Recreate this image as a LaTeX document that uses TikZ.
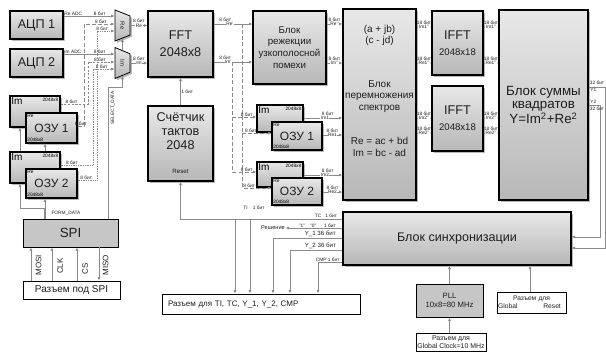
\documentclass[tikz,border=0pt]{standalone}
\usepackage{fontspec}
\setmainfont{Liberation Sans}
\usepackage{tikz}
\usetikzlibrary{positioning,arrows.meta,calc,shapes.geometric,shadows}
\definecolor{SDRline}{HTML}{8A8A8A}
\definecolor{SDRtop}{HTML}{E8E8E8}
\definecolor{SDRbot}{HTML}{B7B7B7}
\definecolor{SDRflat}{HTML}{C6C6C6}
\definecolor{SDRshade}{HTML}{9A9A9A}
\definecolor{SDRink}{HTML}{1E1E1E}
\newcommand{\bitfont}{\fontsize{3.6}{4}\selectfont}
\newcommand{\sigfont}{\fontsize{4.6}{5}\selectfont}
\tikzset{
  wh/.style 2 args={minimum width=#1*0.75pt, minimum height=#2*0.75pt},
  blk/.style={draw=black, line width=0.8pt, top color=SDRtop, bottom color=SDRbot, align=center, inner sep=1pt, text=SDRink, drop shadow={shadow xshift=1.4pt, shadow yshift=-1.4pt, fill=SDRshade, opacity=0.7}},
  flatblk/.style={draw=black, line width=0.7pt, fill=SDRflat, align=center, inner sep=1pt, text=SDRink},
  conn/.style={draw=black, line width=0.6pt, fill=white, align=center, inner sep=0.5pt, text=SDRink},
  mux/.style={blk, shape=trapezium, trapezium angle=65, trapezium stretches=true, rotate=-90, line width=0.6pt, font=\fontsize{4.5}{5}\selectfont},
  ramback/.style={blk, label={[anchor=north west, inner sep=1.2pt, font=\fontsize{7.5}{8}\selectfont]north west:Im}, label={[anchor=north east, inner sep=1.5pt, font=\bitfont]north east:2048x8}},
  ramfront/.style={blk, font=\fontsize{9}{10}\selectfont, label={[anchor=north west, inner sep=1.2pt, font=\bitfont]north west:Re}, label={[anchor=south west, inner sep=1.2pt, font=\bitfont]south west:2048x8}},
  txt/.style={inner sep=0pt, align=center, text=SDRink},
  arr/.style={draw=SDRline, line width=0.5pt, -{Latex[length=2.6pt,width=2.2pt]}},
  ldash/.style={arr, dash pattern=on 3pt off 1.6pt},
  sdash/.style={arr, dash pattern=on 1.6pt off 1.2pt},
  dotarr/.style={arr, dash pattern=on 0.5pt off 0.8pt},
  bus/.style={draw=SDRline, line width=2pt},
  bit/.style={inner sep=0.4pt, font=\bitfont, text=SDRink},
  bitup/.style={bit, above=1.5pt},
  onl/.style={bit, fill=white},
  sig/.style={inner sep=0.4pt, font=\sigfont, text=SDRink},
  pinlbl/.style={inner sep=0pt, rotate=90, font=\fontsize{6}{6}\selectfont, text=SDRink},
  ifftlbl/.style={blk, font=\fontsize{9.5}{12}\selectfont}
}
\begin{document}
\begin{tikzpicture}[x=0.75pt,y=-0.75pt]
\useasboundingbox (0,0) rectangle (606,351);
\node[blk, wh={53}{28}, font=\fontsize{9.5}{11}\selectfont] (adc1) at (36.5,25) {АЦП 1};
\node[blk, wh={53}{28}, font=\fontsize{9.5}{11}\selectfont] (adc2) at (36.5,63) {АЦП 2};
\node[mux, wh={31}{15}] (muxre) at (122.5,25.5) {Re};
\node[mux, wh={31}{15}] (muxim) at (122.5,63) {Im};
\node[blk, wh={65}{66}, font=\fontsize{9.5}{13}\selectfont] (fft) at (180.5,44) {FFT\\2048x8};
\node[blk, wh={73}{73}, font=\fontsize{7.3}{8.8}\selectfont] (rej) at (289.5,47.5) {Блок\\режекции\\узкополосной\\помехи};
\node[blk, wh={73}{191}] (mul) at (379.5,104.5) {};
\node[txt, font=\fontsize{7.5}{8.6}\selectfont] (mulin) at (379.5,35.5) {(a + jb)\\(c - jd)};
\node[txt, font=\fontsize{7.5}{8.6}\selectfont] (multit) at (379.5,96.5) {Блок\\перемножения\\спектров};
\node[txt, font=\fontsize{7.5}{8.6}\selectfont] (mulfx) at (379.5,147) {Re = ac + bd\\Im = bc - ad};
\node[ifftlbl, wh={51}{64}] (ifft1) at (457.5,43) {IFFT\\\fontsize{7.2}{8}\selectfont 2048x18};
\node[ifftlbl, wh={51}{65}] (ifft2) at (457.5,118.5) {IFFT\\\fontsize{7.2}{8}\selectfont 2048x18};
\node[blk, wh={89}{190}, font=\fontsize{10}{10}\selectfont] (sum) at (543.5,105) {Блок суммы\\квадратов\\Y=Im\textsuperscript{2}+Re\textsuperscript{2}};
\node[blk, wh={65}{75}] (cnt) at (180.5,143.5) {};
\node[txt, font=\fontsize{9.5}{10.5}\selectfont] (cnttxt) at (180.5,131) {Счётчик\\тактов\\2048};
\node[txt, font=\sigfont] (cntrst) at (180.5,171) {Reset};
\node[ramback, wh={50}{31}] (ima) at (35,111.5) {};
\node[ramfront, wh={51}{30}] (rama) at (51.5,128) {ОЗУ 1};
\node[ramback, wh={50}{31}] (imb) at (35,167.5) {};
\node[ramfront, wh={51}{29}] (ramb) at (51.5,183.5) {ОЗУ 2};
\node[ramback, wh={46}{27}] (imc) at (280,118.5) {};
\node[ramfront, wh={50}{28}] (ramc) at (297,136) {ОЗУ 1};
\node[ramback, wh={46}{25}] (imd) at (280,174.5) {};
\node[ramfront, wh={50}{27}] (ramd) at (297,191.5) {ОЗУ 2};
\node[flatblk, wh={95}{28}, font=\fontsize{10}{12}\selectfont] (spi) at (70.5,233) {SPI};
\node[conn, wh={97}{18}, font=\fontsize{7.5}{9}\selectfont] (spicon) at (71.5,290) {Разъем под SPI};
\node[blk, wh={228}{53}, font=\fontsize{9.4}{11}\selectfont] (sync) at (457,238.5) {Блок синхронизации};
\node[flatblk, wh={67}{33}, font=\fontsize{5.8}{7}\selectfont] (pll) at (449.5,300.5) {PLL\\10x8=80 MHz};
\node[conn, wh={70}{18}, font=\fontsize{5.2}{6}\selectfont] (gclk) at (451,342) {Разъем для\\Global Clock=10 MHz};
\node[conn, wh={69}{21}, text width=50pt, font=\fontsize{5}{6}\selectfont] (grst) at (531.5,302.5) {Разъем для\\Global\hfill Reset\hspace*{3pt}};
\node[conn, wh={198}{20}, text width=139.5pt, inner xsep=4.5pt, align=left, font=\fontsize{6}{8}\selectfont] (outc) at (261,304) {Разъем для TI, TC, Y\_1, Y\_2, CMP};

\draw[arr] (adc1.east |- 0,16) -- node[bit, pos=0, anchor=south west] (t1) {Re ADC} node[bit, pos=0.71, above] (b1) {8 бит} (muxre.south |- 0,16);
\draw[arr] (adc2.east |- 0,54) -- node[bit, pos=0, anchor=south west] (t2) {Im ADC} node[bit, pos=0.71, above] (b2) {8 бит} (muxim.south |- 0,54);
\draw[ldash] (rama.east |- 0,126) -- node[bit, above] (b3) {8 бит} (84,126) -- (84,24) -- node[bit, above, pos=.55] (b4) {8 бит} (muxre.south |- 0,24);
\draw[sdash] (ima.east |- 0,104) -- node[bit, above, pos=.4] (b5) {8 бит} (88,104) -- (88,62) -- node[bit, above, pos=.45] (b6) {8 бит} (muxim.south |- 0,62);
\draw[dotarr] (imb.east |- 0,165) -- node[bit, above, pos=.35] (b7) {8 бит} (93,165) -- (93,69) -- node[bit, above, pos=.4] (b8) {8 бит} (muxim.south |- 0,69);
\draw[dotarr] (ramb.east |- 0,180) -- node[bit, above, pos=.45] (b9) {8 бит} (97,180) -- (97,31) -- node[bit, above, pos=.3] (b10) {8 бит} (muxre.south |- 0,31);

\draw[arr] (muxre.north) -- node[bitup, pos=.5] (b11) {8 бит} node[onl, pos=.5] (s1) {Re} (muxre.north -| fft.west);
\draw[arr] (muxim.north) -- node[bitup, pos=.5] (b12) {8 бит} node[onl, pos=.5] (s2) {Im} (muxim.north -| fft.west);
\draw[arr] (spi.north -| 108,0) -- (108,87) -| (muxim.east);
\draw[arr] (muxim.west) -- (muxre.east);
\node[bit, rotate=90] (selt) at (113,108) {SELECT\_DATA};

\coordinate (fdbr) at (45,208);
\draw[bus] (spi.north -| fdbr) -- (fdbr);
\draw[arr] (fdbr) -- (ramb.south -| fdbr);
\draw[arr] (fdbr) -- (20,208) -- (imb.south -| 20,0);
\draw[arr] (imb.north -| 20,0) -- (ima.south -| 20,0);
\draw[arr] (imb.north -| fdbr) -- (rama.south -| fdbr);
\node[bit] (fdlbl) at (66,213.5) {FORM\_DATA};

\draw[arr] (spicon.north -| 31,0) -- (spi.south -| 31,0);
\draw[arr] (spicon.north -| 52,0) -- (spi.south -| 52,0);
\draw[arr] (spicon.north -| 77,0) -- (spi.south -| 77,0);
\draw[arr] (spi.south -| 99,0) -- (spicon.north -| 99,0);
\node[pinlbl] (mosi) at (38.5,265) {MOSI};
\node[pinlbl] (clk) at (60,266) {CLK};
\node[pinlbl] (cs) at (85,269) {CS};
\node[pinlbl] (miso) at (105.5,265) {MISO};

\draw[arr] (fft.east |- 0,24) -- node[bitup, pos=.3] (b13) {8 бит} node[onl, pos=.42] (s3) {Re'} (rej.west |- 0,24);
\draw[arr] (fft.east |- 0,62) -- node[bitup, pos=.3] (b14) {8 бит} node[onl, pos=.38] (s4) {Im'} (rej.west |- 0,62);
\coordinate (rebr) at (242,24);
\coordinate (imbr) at (232,62);
\draw[ldash] (rebr) |- node[bit, above, pos=.62] (b15) {8 бит} (ramd.west |- 0,188);
\draw[ldash] (rebr |- 0,133) -- node[bit, above, pos=.3] (b16) {8 бит} (ramc.west |- 0,133);
\draw[ldash] (imbr) |- node[bit, above, pos=.8] (b17) {8 бит} (imd.west |- 0,172);
\draw[ldash] (imbr |- 0,117) -- node[bit, above, pos=.6] (b18) {8 бит} (imc.west |- 0,117);

\draw[arr] (imc.east |- 0,118) -- node[bitup, pos=.62] (b19) {8 бит} node[onl, pos=.55] (s5) {Im1} (mul.west |- 0,118);
\draw[arr] (ramc.east |- 0,135) -- node[bitup, pos=.5] (b20) {8 бит} node[onl, pos=.5] (s6) {Re1} (mul.west |- 0,135);
\draw[arr] (imd.east |- 0,175) -- node[bitup, pos=.62] (b21) {8 бит} node[onl, pos=.55] (s7) {Im2} (mul.west |- 0,175);
\draw[arr] (ramd.east |- 0,192) -- node[bitup, pos=.5] (b22) {8 бит} node[onl, pos=.5] (s8) {Re2} (mul.west |- 0,192);

\draw[arr] (rej.east |- 0,24) -- node[bitup] (b23) {8 бит} node[onl] (s9) {Re'{}'} (mul.west |- 0,24);
\draw[arr] (rej.east |- 0,63) -- node[bitup] (b24) {8 бит} node[onl] (s10) {Im'{}'} (mul.west |- 0,63);
\draw[arr] (mul.east |- 0,27) -- node[bitup] (b25) {18 бит} node[onl] (s11) {Im1'{}'} (ifft1.west |- 0,27);
\draw[arr] (mul.east |- 0,63) -- node[bitup] (b26) {18 бит} node[onl] (s12) {Re1'{}'} (ifft1.west |- 0,63);
\draw[arr] (mul.east |- 0,118) -- node[bitup] (b27) {18 бит} node[onl] (s13) {Im2'{}'} (ifft2.west |- 0,118);
\draw[arr] (mul.east |- 0,133) -- node[bitup] (b28) {18 бит} node[onl] (s14) {Re2'{}'} (ifft2.west |- 0,133);
\draw[arr] (ifft1.east |- 0,27) -- node[bitup] (b29) {18 бит} node[onl] (s15) {Im1'{}'} (sum.west |- 0,27);
\draw[arr] (ifft1.east |- 0,63) -- node[bitup] (b30) {18 бит} node[onl] (s16) {Re1'{}'} (sum.west |- 0,63);
\draw[arr] (ifft2.east |- 0,118) -- node[bitup] (b31) {18 бит} node[onl] (s17) {Im2'{}'} (sum.west |- 0,118);
\draw[arr] (ifft2.east |- 0,133) -- node[bitup] (b32) {18 бит} node[onl] (s18) {Re2'{}'} (sum.west |- 0,133);

\draw[arr] (cnt.north) -- node[bit, right, pos=.5] (b33) {1 бит} (fft.south);

\draw[arr] (sum.east |- 0,87) -- (605,87) -- (605,248) -- (sync.east |- 0,248);
\draw[arr] (sum.east |- 0,105) -- (600,105) -- (600,237) -- (sync.east |- 0,237);
\node[bit] (y1b) at (597,83) {32 бит};
\node[bit, anchor=west] (y1n) at (589.5,90) {Y1};
\node[bit, anchor=west] (y2n) at (589.5,101.5) {Y2};
\node[bit] (y2b) at (597,108.5) {32 бит};

\draw[arr] (sync.west |- 0,219) -| (cnt.south);
\coordinate (tibr) at (235,219);
\coordinate (tcbr) at (250,219);
\draw[arr] (tibr) -- (outc.north -| tibr);
\draw[arr] (tcbr) -- (outc.north -| tcbr);
\node[bit] (tilbl) at (254,208) {TI\hspace{4pt}1 бит};
\node[bit] (tclbl) at (326,215.5) {TC\hspace{3pt}1 бит};
\node[bit, font=\fontsize{4.2}{5}\selectfont] (resh) at (273,228) {Решение};
\draw[arr] (sync.west |- 0,228) -- node[bit, above, pos=.44] (b34) {"1"\hspace{4pt}"0"\hspace{6pt}1 бит} (resh.east);
\draw[arr] (sync.west |- 0,238) -| node[sig, above, pos=.16] (b35) {Y\_1 36 бит} (outc.north -| 273,0);
\draw[arr] (sync.west |- 0,250) -| node[sig, above, pos=.21] (b36) {Y\_2 36 бит} (outc.north -| 290,0);
\draw[arr] (sync.west |- 0,262) -| node[bit, above, pos=.3] (b37) {CMP 1 бит} (outc.north -| 318,0);

\draw[arr] (pll.north) -- (pll.north |- sync.south);
\draw[arr] (gclk.north -| pll.south) -- (pll.south);
\draw[arr] (grst.north -| 530,0) -- (sync.south -| 530,0);
\end{tikzpicture}
\end{document}
